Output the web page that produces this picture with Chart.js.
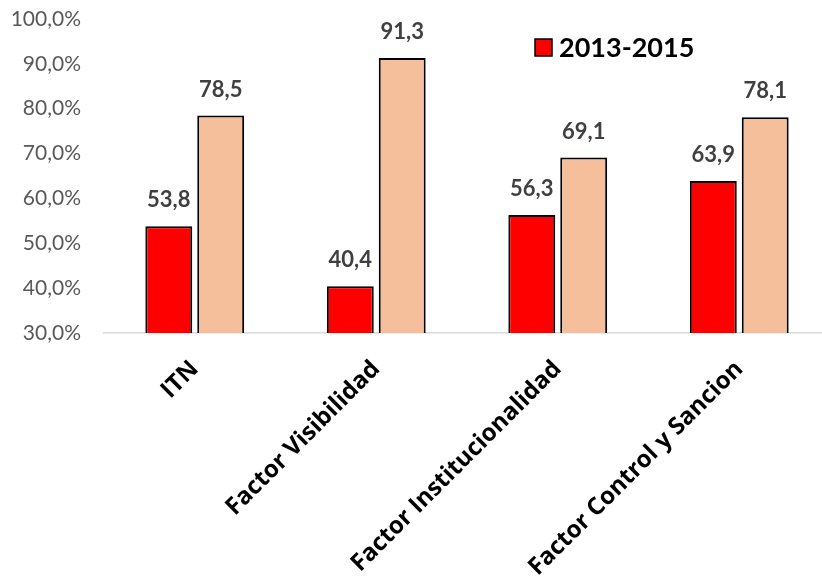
<!DOCTYPE html>
<html><head><meta charset="utf-8">
<script src="https://cdn.jsdelivr.net/npm/chart.js@4"></script>
<style>html,body{margin:0;padding:0;background:#fff;}#wrap{width:822px;height:577px;}</style>
</head><body><div id="wrap"><canvas id="c" width="822" height="577"></canvas></div>
<script>
const categories = ["ITN", "Factor Visibilidad", "Factor Institucionalidad", "Factor Control y Sancion"];
const series2013 = [53.8, 40.4, 56.3, 63.9];
const series2 = [78.5, 91.3, 69.1, 78.1];
const seriesLabels = ["2013-2015", ""];
const yTicks = [30, 40, 50, 60, 70, 80, 90, 100];

const extendRight = {
  id: 'extendRight',
  afterLayout(chart) {
    const x = chart.scales.x;
    const newRight = 830;
    x.right = newRight;
    x.width = newRight - x.left;
    chart.chartArea.right = newRight;
    chart.chartArea.width = newRight - chart.chartArea.left;
    x.configure();
  }
};

const valueLabels = {
  id: 'valueLabels',
  afterDatasetsDraw(chart) {
    const ctx = chart.ctx;
    ctx.save();
    ctx.font = 'bold 22px Lato';
    ctx.fillStyle = '#404040';
    ctx.textAlign = 'center';
    ctx.textBaseline = 'middle';
    chart.data.datasets.forEach((ds, i) => {
      chart.getDatasetMeta(i).data.forEach((bar, j) => {
        ctx.fillText(ds.data[j].toFixed(1).replace('.', ','), bar.x, bar.y - 26);
      });
    });
    ctx.restore();
  }
};

const customLegend = {
  id: 'customLegend',
  afterDraw(chart) {
    const ctx = chart.ctx;
    const ds = chart.data.datasets[0];
    ctx.save();
    ctx.fillStyle = ds.backgroundColor;
    ctx.strokeStyle = '#000';
    ctx.lineWidth = 1.5;
    ctx.fillRect(535, 39, 17, 17);
    ctx.strokeRect(535, 39, 17, 17);
    ctx.font = 'bold 27px Lato';
    ctx.fillStyle = '#000';
    ctx.textAlign = 'left';
    ctx.textBaseline = 'middle';
    ctx.fillText(ds.label, 559, 48);
    ctx.restore();
  }
};

new Chart(document.getElementById('c'), {
  type: 'bar',
  data: {
    labels: categories,
    datasets: [
      { label: seriesLabels[0], data: series2013, backgroundColor: '#FF0000', borderColor: '#000', borderWidth: 2 },
      { label: seriesLabels[1], data: series2, backgroundColor: '#F5BF9C', borderColor: '#000', borderWidth: 2 }
    ]
  },
  options: {
    responsive: false,
    animation: false,
    devicePixelRatio: 1,
    layout: { padding: { top: 19, right: 0, left: 0, bottom: 0 } },
    datasets: { bar: { categoryPercentage: 0.572, barPercentage: 0.904 } },
    plugins: { legend: { display: false }, tooltip: { enabled: false } },
    scales: {
      y: {
        min: 30, max: 100,
        afterBuildTicks(scale) { scale.ticks = yTicks.map(v => ({ value: v })); },
        afterFit(scale) { scale.width = 104; scale.paddingTop = 0; scale.paddingBottom = 0; },
        grid: { display: false, drawTicks: false },
        border: { display: false },
        ticks: {
          padding: 23,
          color: '#595959',
          font: { family: 'Lato', size: 21 },
          callback: v => v.toFixed(1).replace('.', ',') + '%'
        }
      },
      x: {
        afterFit(scale) { scale.height = 244; },
        grid: { display: false, drawTicks: false },
        border: { display: true, color: '#D9D9D9', width: 1.5 },
        ticks: {
          minRotation: 45, maxRotation: 45, padding: 22,
          color: '#000',
          font: { family: 'Open Sans', size: 24, weight: 'bold' }
        }
      }
    }
  },
  plugins: [extendRight, valueLabels, customLegend]
});
</script></body></html>
